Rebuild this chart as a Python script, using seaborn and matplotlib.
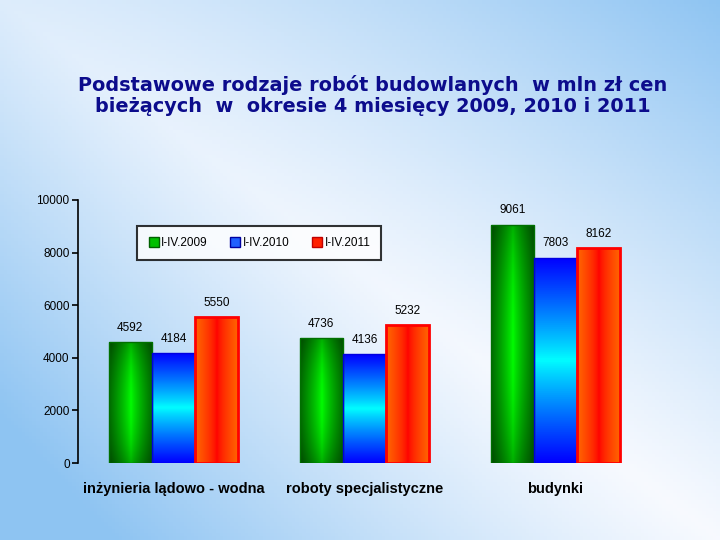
import numpy as np
import pandas as pd
import matplotlib.pyplot as plt
import seaborn as sns

# dane
kategorie = ['inżynieria lądowo - wodna', 'roboty specjalistyczne', 'budynki']
okresy = ['I-IV.2009', 'I-IV.2010', 'I-IV.2011']
w_2009 = [4592, 4736, 9061]
w_2010 = [4184, 4136, 7803]
w_2011 = [5550, 5232, 8162]

df = pd.DataFrame({
    'kategoria': kategorie * 3,
    'okres': [okresy[0]] * 3 + [okresy[1]] * 3 + [okresy[2]] * 3,
    'wartosc': w_2009 + w_2010 + w_2011,
})

sns.set_style('white')
plt.rcParams['font.family'] = ['Liberation Sans', 'DejaVu Sans']
plt.rcParams['text.color'] = 'black'
plt.rcParams['xtick.color'] = 'black'
plt.rcParams['ytick.color'] = 'black'

fig = plt.figure(figsize=(7.2, 5.4), dpi=100)

# tlo z gradientem
bg = fig.add_axes([0, 0, 1, 1], zorder=-10)
xx, yy = np.meshgrid(np.linspace(0, 1, 200), np.linspace(1, 0, 150))
s = np.abs((xx + yy) / 2 - 0.5) * 2
s = np.clip(s, 0, 1) ** 1.1
s = np.clip(s + 0.25 * (1 - xx) ** 2, 0, 1)
blue = np.array([0.56, 0.77, 0.95])
img = (1 - s)[..., None] * np.array([0.97, 0.98, 1.0]) + s[..., None] * blue
bg.imshow(img, aspect='auto', extent=[0, 1, 0, 1])
bg.axis('off')

ax = fig.add_axes([78 / 720, 1 - 463 / 540, 573 / 720, 263 / 540])
ax.patch.set_alpha(0)

kolory = ['#00a000', '#0000ff', '#ff2000']
sns.barplot(data=df, x='kategoria', y='wartosc', hue='okres', palette=kolory,
            width=0.68, gap=0, ax=ax, legend=True)


def profil(n, brzeg, srodek, moc=1.0):
    t = np.abs(np.linspace(-1, 1, n)) ** moc
    return (1 - t)[:, None] * np.array(srodek) + t[:, None] * np.array(brzeg)


# gradienty w slupkach
for i, cont in enumerate(ax.containers):
    for bar in cont:
        x0, y0 = bar.get_x(), bar.get_y()
        w, h = bar.get_width(), bar.get_height()
        if i == 0:
            hor = profil(60, [0.0, 0.42, 0.0], [0.0, 1.0, 0.0], 0.8)
            ver = np.clip(1 - 0.3 * np.abs(np.linspace(-1, 1, 100)) ** 2, 0, 1)
            g = hor[None, :, :] * ver[:, None, None]
            edge = '#007000'
        elif i == 1:
            ver = profil(100, [0.0, 0.0, 1.0], [0.0, 1.0, 1.0], 0.9)
            g = np.repeat(ver[:, None, :], 60, axis=1)
            edge = '#0000e0'
        else:
            hor = profil(60, [1.0, 0.4, 0.0], [1.0, 0.0, 0.0], 0.7)
            g = np.repeat(hor[None, :, :], 100, axis=0)
            edge = '#ff0000'
        bar.set_facecolor('none')
        bar.set_edgecolor(edge)
        bar.set_linewidth(2 if i == 2 else 1)
        bar.set_zorder(2)
        im = ax.imshow(g, extent=[x0, x0 + w, y0, y0 + h], aspect='auto', zorder=1)
        im.set_clip_path(bar)
    ax.bar_label(cont, fmt='%d', padding=6, fontsize=8.5, color='black')

ax.set_xlim(-0.5, 2.5)
ax.set_ylim(0, 10000)
ax.set_yticks(range(0, 10001, 2000))
ax.set_xlabel('')
ax.set_ylabel('')
for sp in ['top', 'right', 'bottom']:
    ax.spines[sp].set_visible(False)
ax.spines['left'].set_color('black')
ax.spines['left'].set_linewidth(1.2)
ax.tick_params(axis='y', left=True, length=4, width=1.2, labelsize=8.5, pad=2)
ax.tick_params(axis='x', bottom=False, pad=10)
for t in ax.get_xticklabels():
    t.set_fontweight('bold')
    t.set_fontsize(10.5)

# legenda
ax.legend_.remove()
handles = [plt.Line2D([], [], marker='s', linestyle='', markersize=7,
                      markerfacecolor=c, markeredgecolor=e)
           for c, e in zip(['#00c000', '#2060ff', '#ff2000'], ['#006000', '#0000a0', '#c00000'])]
leg = fig.legend(handles, okresy, loc='center',
                 bbox_to_anchor=(137 / 720, 1 - 260 / 540, 244 / 720, 34 / 540),
                 mode='expand', ncol=3, fontsize=8.5, frameon=True, fancybox=False,
                 handletextpad=0.1, borderpad=0.9, columnspacing=1.0,
                 borderaxespad=0, handlelength=1.0)
leg.get_frame().set_edgecolor('black')
leg.get_frame().set_linewidth(1.5)
leg.get_frame().set_facecolor('white')

fig.text(0.518, 0.823, 'Podstawowe rodzaje robót budowlanych  w mln zł cen\n'
         'bieżących  w  okresie 4 miesięcy 2009, 2010 i 2011',
         ha='center', va='center', fontsize=13.9, color='#0c0c8c',
         fontweight='bold', family=['DejaVu Sans'], linespacing=1.15)

fig.savefig('out.png', dpi=100)
